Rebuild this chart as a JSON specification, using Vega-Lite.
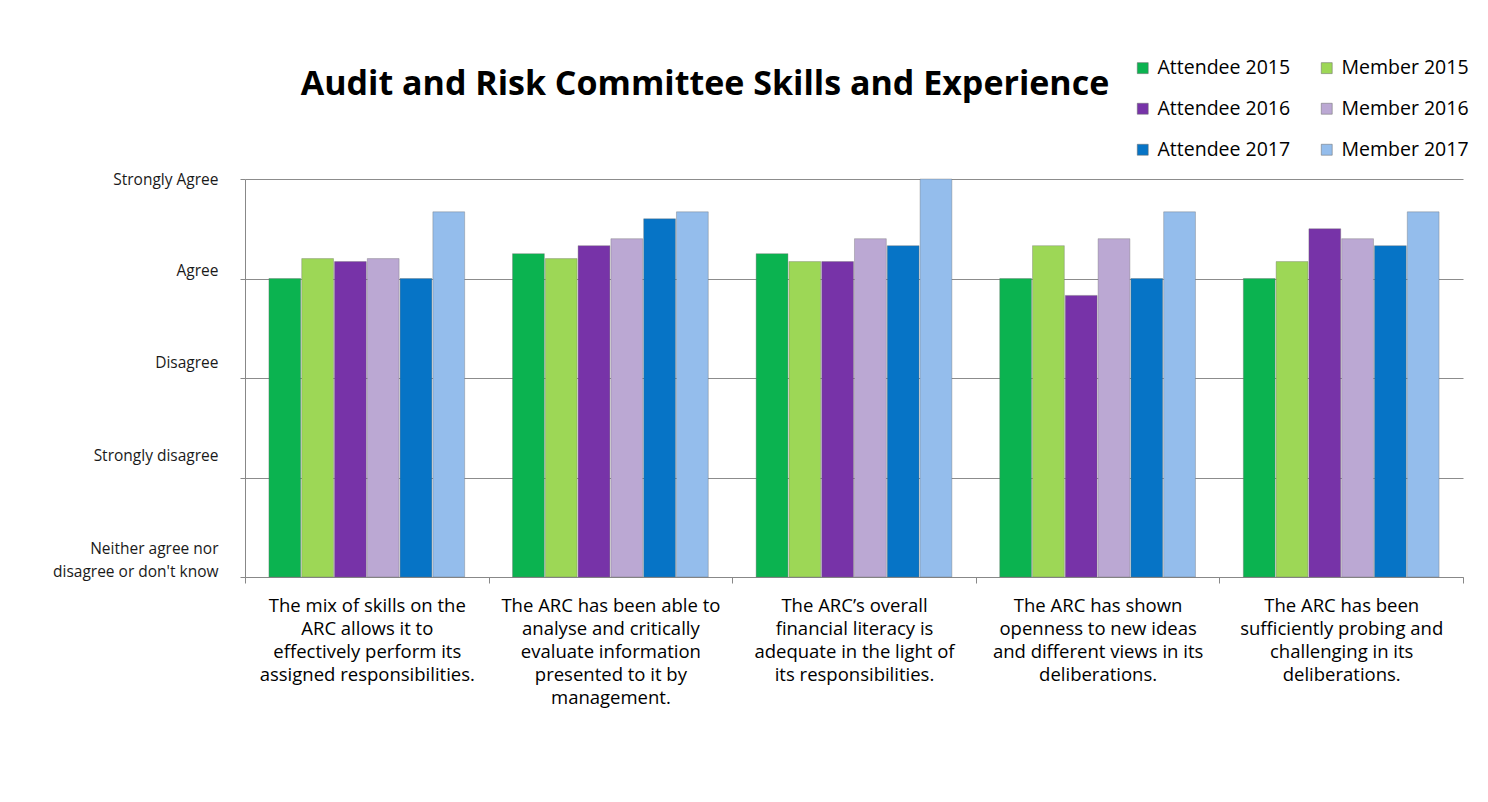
{
  "$schema": "https://vega.github.io/schema/vega-lite/v6.json",
  "autosize": {"type": "none"},
  "width": 1218,
  "height": 398,
  "padding": {"left": 245, "top": 179, "right": 25, "bottom": 225},
  "background": "white",
  "title": {
    "text": "Audit and Risk Committee Skills and Experience",
    "font": "Open Sans",
    "fontSize": 34,
    "fontWeight": "bold",
    "color": "#000000",
    "anchor": "middle",
    "dx": -149,
    "offset": -44
  },
  "data": {
    "values": [
      {"statement": "The mix of skills on the|ARC allows it to|effectively perform its|assigned responsibilities.", "group": "Attendee 2015", "score": 3.0},
      {"statement": "The mix of skills on the|ARC allows it to|effectively perform its|assigned responsibilities.", "group": "Member 2015", "score": 3.2},
      {"statement": "The mix of skills on the|ARC allows it to|effectively perform its|assigned responsibilities.", "group": "Attendee 2016", "score": 3.17},
      {"statement": "The mix of skills on the|ARC allows it to|effectively perform its|assigned responsibilities.", "group": "Member 2016", "score": 3.2},
      {"statement": "The mix of skills on the|ARC allows it to|effectively perform its|assigned responsibilities.", "group": "Attendee 2017", "score": 3.0},
      {"statement": "The mix of skills on the|ARC allows it to|effectively perform its|assigned responsibilities.", "group": "Member 2017", "score": 3.67},
      {"statement": "The ARC has been able to|analyse and critically|evaluate information|presented to it by|management.", "group": "Attendee 2015", "score": 3.25},
      {"statement": "The ARC has been able to|analyse and critically|evaluate information|presented to it by|management.", "group": "Member 2015", "score": 3.2},
      {"statement": "The ARC has been able to|analyse and critically|evaluate information|presented to it by|management.", "group": "Attendee 2016", "score": 3.33},
      {"statement": "The ARC has been able to|analyse and critically|evaluate information|presented to it by|management.", "group": "Member 2016", "score": 3.4},
      {"statement": "The ARC has been able to|analyse and critically|evaluate information|presented to it by|management.", "group": "Attendee 2017", "score": 3.6},
      {"statement": "The ARC has been able to|analyse and critically|evaluate information|presented to it by|management.", "group": "Member 2017", "score": 3.67},
      {"statement": "The ARC’s overall|financial literacy is|adequate in the light of|its responsibilities.", "group": "Attendee 2015", "score": 3.25},
      {"statement": "The ARC’s overall|financial literacy is|adequate in the light of|its responsibilities.", "group": "Member 2015", "score": 3.17},
      {"statement": "The ARC’s overall|financial literacy is|adequate in the light of|its responsibilities.", "group": "Attendee 2016", "score": 3.17},
      {"statement": "The ARC’s overall|financial literacy is|adequate in the light of|its responsibilities.", "group": "Member 2016", "score": 3.4},
      {"statement": "The ARC’s overall|financial literacy is|adequate in the light of|its responsibilities.", "group": "Attendee 2017", "score": 3.33},
      {"statement": "The ARC’s overall|financial literacy is|adequate in the light of|its responsibilities.", "group": "Member 2017", "score": 4.0},
      {"statement": "The ARC has shown|openness to new ideas|and different views in its|deliberations.", "group": "Attendee 2015", "score": 3.0},
      {"statement": "The ARC has shown|openness to new ideas|and different views in its|deliberations.", "group": "Member 2015", "score": 3.33},
      {"statement": "The ARC has shown|openness to new ideas|and different views in its|deliberations.", "group": "Attendee 2016", "score": 2.83},
      {"statement": "The ARC has shown|openness to new ideas|and different views in its|deliberations.", "group": "Member 2016", "score": 3.4},
      {"statement": "The ARC has shown|openness to new ideas|and different views in its|deliberations.", "group": "Attendee 2017", "score": 3.0},
      {"statement": "The ARC has shown|openness to new ideas|and different views in its|deliberations.", "group": "Member 2017", "score": 3.67},
      {"statement": "The ARC has been|sufficiently probing and|challenging in its|deliberations.", "group": "Attendee 2015", "score": 3.0},
      {"statement": "The ARC has been|sufficiently probing and|challenging in its|deliberations.", "group": "Member 2015", "score": 3.17},
      {"statement": "The ARC has been|sufficiently probing and|challenging in its|deliberations.", "group": "Attendee 2016", "score": 3.5},
      {"statement": "The ARC has been|sufficiently probing and|challenging in its|deliberations.", "group": "Member 2016", "score": 3.4},
      {"statement": "The ARC has been|sufficiently probing and|challenging in its|deliberations.", "group": "Attendee 2017", "score": 3.33},
      {"statement": "The ARC has been|sufficiently probing and|challenging in its|deliberations.", "group": "Member 2017", "score": 3.67}
    ]
  },
  "mark": {"type": "bar", "stroke": "#6a6a6a", "strokeWidth": 0.6, "strokeOpacity": 0.6},
  "encoding": {
    "x": {
      "field": "statement",
      "type": "nominal",
      "sort": null,
      "scale": {"paddingInner": 0, "paddingOuter": 0},
      "axis": {
        "title": null,
        "labelAngle": 0,
        "labelExpr": "split(datum.label, '|')",
        "labelFont": "Open Sans",
        "labelFontSize": 18.5,
        "labelColor": "#000000",
        "labelLineHeight": 23,
        "labelBaseline": "top",
        "labelPadding": 13,
        "labelLimit": 300,
        "tickBand": "extent",
        "tickSize": 6,
        "tickColor": "#888888",
        "domainColor": "#888888",
        "grid": false
      }
    },
    "xOffset": {
      "field": "group",
      "type": "nominal",
      "sort": ["Attendee 2015", "Member 2015", "Attendee 2016", "Member 2016", "Attendee 2017", "Member 2017"],
      "scale": {"paddingInner": 0.03, "paddingOuter": 0.73}
    },
    "y": {
      "field": "score",
      "type": "quantitative",
      "scale": {"domain": [0, 4], "nice": false},
      "axis": {
        "title": null,
        "values": [0, 1, 2, 3, 4],
        "labelExpr": "datum.value == 4 ? 'Strongly Agree' : datum.value == 3 ? 'Agree' : datum.value == 2 ? 'Disagree' : datum.value == 1 ? 'Strongly disagree' : ['Neither agree nor', 'disagree or don\\'t know']",
        "labelFont": "Open Sans",
        "labelFontSize": 15.5,
        "labelColor": "#1a1a1a",
        "labelLineHeight": 23,
        "labelPadding": 22,
        "labelOffset": {
          "condition": [
            {"test": "datum.value == 3", "value": -8},
            {"test": "datum.value == 2", "value": -16},
            {"test": "datum.value == 1", "value": -22},
            {"test": "datum.value == 0", "value": -29}
          ],
          "value": 0
        },
        "tickSize": 5,
        "tickColor": "#888888",
        "domainColor": "#888888",
        "gridColor": "#8c8c8c",
        "gridWidth": 1
      }
    },
    "color": {
      "field": "group",
      "type": "nominal",
      "sort": ["Attendee 2015", "Member 2015", "Attendee 2016", "Member 2016", "Attendee 2017", "Member 2017"],
      "scale": {
        "domain": ["Attendee 2015", "Member 2015", "Attendee 2016", "Member 2016", "Attendee 2017", "Member 2017"],
        "range": ["#0bb350", "#9dd756", "#7733a8", "#bba8d3", "#0674c6", "#94bdec"]
      },
      "legend": {
        "title": null,
        "orient": "none",
        "legendX": 888,
        "legendY": -121,
        "direction": "horizontal",
        "columns": 2,
        "columnPadding": 26,
        "rowPadding": 20,
        "symbolType": "square",
        "symbolSize": 120,
        "symbolStrokeColor": "#666666",
        "symbolStrokeWidth": 0.5,
        "labelFont": "Open Sans",
        "labelFontSize": 19.5,
        "labelColor": "#000000",
        "labelOffset": 5,
        "labelLimit": 220
      }
    }
  },
  "config": {
    "view": {"stroke": null}
  }
}
